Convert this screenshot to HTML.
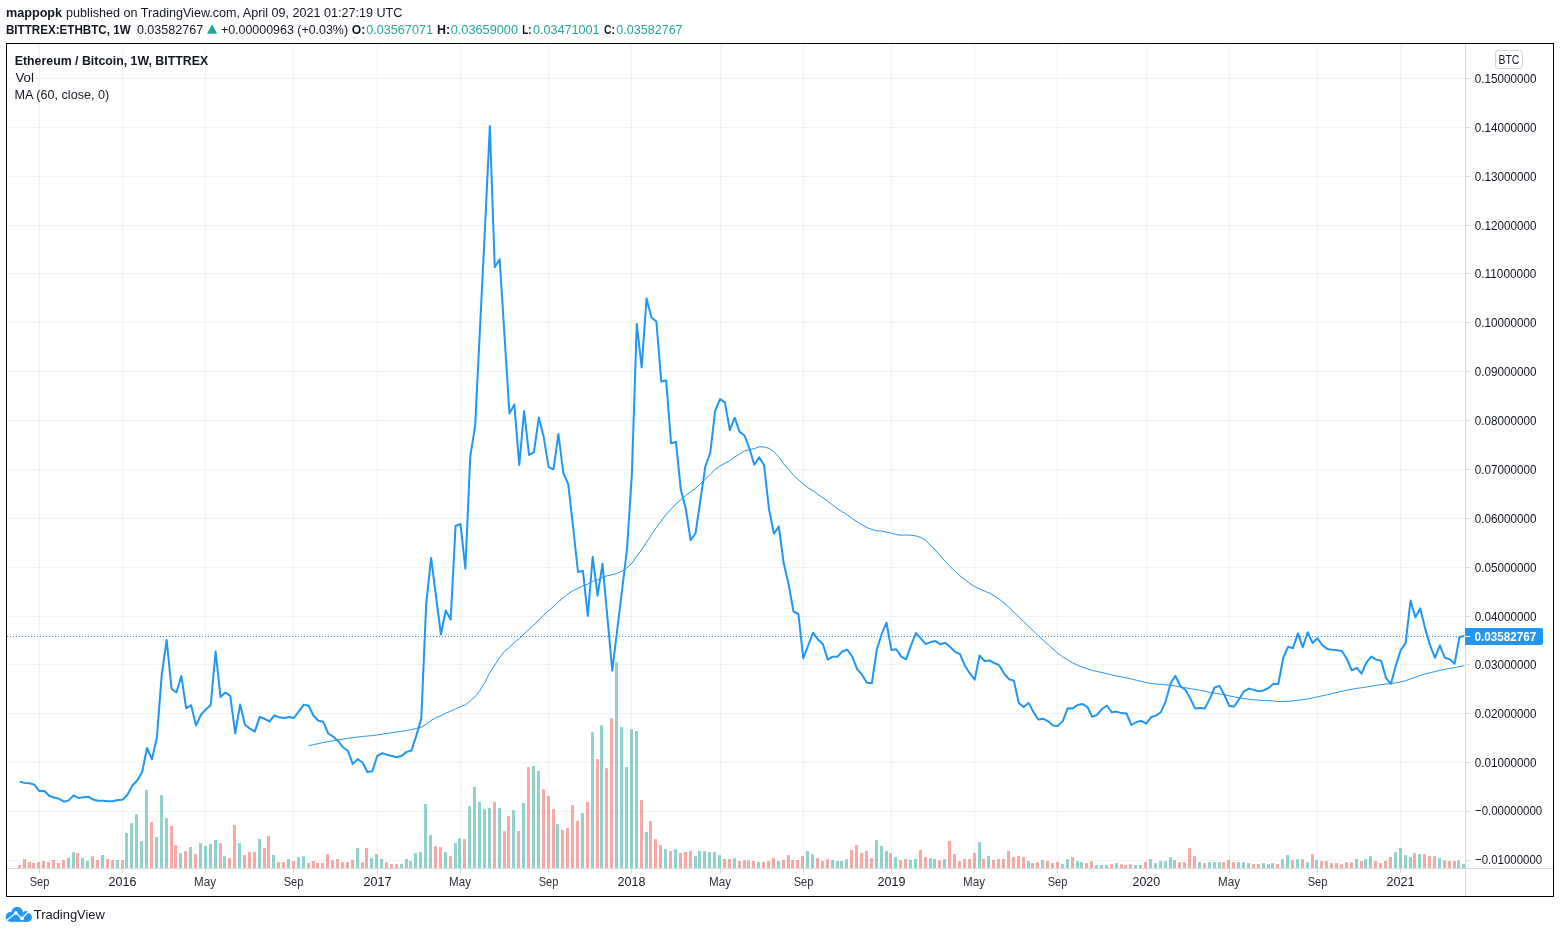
<!DOCTYPE html><html><head><meta charset="utf-8"><title>ETHBTC chart</title><style>
html,body{margin:0;padding:0;background:#fff;width:1560px;height:933px;overflow:hidden}
svg{display:block;will-change:transform}
text{font-family:"Liberation Sans",sans-serif}
</style></head><body>
<svg width="1560" height="933" viewBox="0 0 1560 933" shape-rendering="auto">
<rect x="0" y="0" width="1560" height="933" fill="#ffffff"/>
<rect x="7" y="78" width="1458" height="1" fill="rgba(42,46,57,0.06)"/>
<rect x="1466" y="78" width="4" height="1" fill="#d6d8dc"/>
<rect x="7" y="127" width="1458" height="1" fill="rgba(42,46,57,0.06)"/>
<rect x="1466" y="127" width="4" height="1" fill="#d6d8dc"/>
<rect x="7" y="176" width="1458" height="1" fill="rgba(42,46,57,0.06)"/>
<rect x="1466" y="176" width="4" height="1" fill="#d6d8dc"/>
<rect x="7" y="225" width="1458" height="1" fill="rgba(42,46,57,0.06)"/>
<rect x="1466" y="225" width="4" height="1" fill="#d6d8dc"/>
<rect x="7" y="273" width="1458" height="1" fill="rgba(42,46,57,0.06)"/>
<rect x="1466" y="273" width="4" height="1" fill="#d6d8dc"/>
<rect x="7" y="322" width="1458" height="1" fill="rgba(42,46,57,0.06)"/>
<rect x="1466" y="322" width="4" height="1" fill="#d6d8dc"/>
<rect x="7" y="371" width="1458" height="1" fill="rgba(42,46,57,0.06)"/>
<rect x="1466" y="371" width="4" height="1" fill="#d6d8dc"/>
<rect x="7" y="420" width="1458" height="1" fill="rgba(42,46,57,0.06)"/>
<rect x="1466" y="420" width="4" height="1" fill="#d6d8dc"/>
<rect x="7" y="469" width="1458" height="1" fill="rgba(42,46,57,0.06)"/>
<rect x="1466" y="469" width="4" height="1" fill="#d6d8dc"/>
<rect x="7" y="518" width="1458" height="1" fill="rgba(42,46,57,0.06)"/>
<rect x="1466" y="518" width="4" height="1" fill="#d6d8dc"/>
<rect x="7" y="567" width="1458" height="1" fill="rgba(42,46,57,0.06)"/>
<rect x="1466" y="567" width="4" height="1" fill="#d6d8dc"/>
<rect x="7" y="616" width="1458" height="1" fill="rgba(42,46,57,0.06)"/>
<rect x="1466" y="616" width="4" height="1" fill="#d6d8dc"/>
<rect x="7" y="664" width="1458" height="1" fill="rgba(42,46,57,0.06)"/>
<rect x="1466" y="664" width="4" height="1" fill="#d6d8dc"/>
<rect x="7" y="713" width="1458" height="1" fill="rgba(42,46,57,0.06)"/>
<rect x="1466" y="713" width="4" height="1" fill="#d6d8dc"/>
<rect x="7" y="762" width="1458" height="1" fill="rgba(42,46,57,0.06)"/>
<rect x="1466" y="762" width="4" height="1" fill="#d6d8dc"/>
<rect x="7" y="811" width="1458" height="1" fill="rgba(42,46,57,0.06)"/>
<rect x="1466" y="811" width="4" height="1" fill="#d6d8dc"/>
<rect x="7" y="860" width="1458" height="1" fill="rgba(42,46,57,0.06)"/>
<rect x="1466" y="860" width="4" height="1" fill="#d6d8dc"/>
<rect x="39" y="44" width="1" height="824" fill="rgba(42,46,57,0.06)"/>
<rect x="39" y="869" width="1" height="4" fill="#d6d8dc"/>
<rect x="122" y="44" width="1" height="824" fill="rgba(42,46,57,0.06)"/>
<rect x="122" y="869" width="1" height="4" fill="#d6d8dc"/>
<rect x="205" y="44" width="1" height="824" fill="rgba(42,46,57,0.06)"/>
<rect x="205" y="869" width="1" height="4" fill="#d6d8dc"/>
<rect x="293" y="44" width="1" height="824" fill="rgba(42,46,57,0.06)"/>
<rect x="293" y="869" width="1" height="4" fill="#d6d8dc"/>
<rect x="377" y="44" width="1" height="824" fill="rgba(42,46,57,0.06)"/>
<rect x="377" y="869" width="1" height="4" fill="#d6d8dc"/>
<rect x="460" y="44" width="1" height="824" fill="rgba(42,46,57,0.06)"/>
<rect x="460" y="869" width="1" height="4" fill="#d6d8dc"/>
<rect x="548" y="44" width="1" height="824" fill="rgba(42,46,57,0.06)"/>
<rect x="548" y="869" width="1" height="4" fill="#d6d8dc"/>
<rect x="631" y="44" width="1" height="824" fill="rgba(42,46,57,0.06)"/>
<rect x="631" y="869" width="1" height="4" fill="#d6d8dc"/>
<rect x="720" y="44" width="1" height="824" fill="rgba(42,46,57,0.06)"/>
<rect x="720" y="869" width="1" height="4" fill="#d6d8dc"/>
<rect x="803" y="44" width="1" height="824" fill="rgba(42,46,57,0.06)"/>
<rect x="803" y="869" width="1" height="4" fill="#d6d8dc"/>
<rect x="891" y="44" width="1" height="824" fill="rgba(42,46,57,0.06)"/>
<rect x="891" y="869" width="1" height="4" fill="#d6d8dc"/>
<rect x="974" y="44" width="1" height="824" fill="rgba(42,46,57,0.06)"/>
<rect x="974" y="869" width="1" height="4" fill="#d6d8dc"/>
<rect x="1057" y="44" width="1" height="824" fill="rgba(42,46,57,0.06)"/>
<rect x="1057" y="869" width="1" height="4" fill="#d6d8dc"/>
<rect x="1146" y="44" width="1" height="824" fill="rgba(42,46,57,0.06)"/>
<rect x="1146" y="869" width="1" height="4" fill="#d6d8dc"/>
<rect x="1229" y="44" width="1" height="824" fill="rgba(42,46,57,0.06)"/>
<rect x="1229" y="869" width="1" height="4" fill="#d6d8dc"/>
<rect x="1317" y="44" width="1" height="824" fill="rgba(42,46,57,0.06)"/>
<rect x="1317" y="869" width="1" height="4" fill="#d6d8dc"/>
<rect x="1400" y="44" width="1" height="824" fill="rgba(42,46,57,0.06)"/>
<rect x="1400" y="869" width="1" height="4" fill="#d6d8dc"/>
<rect x="18" y="865.0" width="3" height="3.0" fill="rgba(239,83,80,0.5)"/>
<rect x="23" y="859.1" width="3" height="8.9" fill="rgba(239,83,80,0.5)"/>
<rect x="28" y="862.0" width="3" height="6.0" fill="rgba(239,83,80,0.5)"/>
<rect x="32" y="862.9" width="3" height="5.1" fill="rgba(239,83,80,0.5)"/>
<rect x="37" y="862.0" width="3" height="6.0" fill="rgba(239,83,80,0.5)"/>
<rect x="42" y="861.0" width="3" height="7.0" fill="rgba(239,83,80,0.5)"/>
<rect x="47" y="862.0" width="3" height="6.0" fill="rgba(239,83,80,0.5)"/>
<rect x="52" y="860.0" width="3" height="8.0" fill="rgba(239,83,80,0.5)"/>
<rect x="57" y="862.9" width="3" height="5.1" fill="rgba(239,83,80,0.5)"/>
<rect x="62" y="860.0" width="3" height="8.0" fill="rgba(239,83,80,0.5)"/>
<rect x="67" y="857.9" width="3" height="10.1" fill="rgba(38,166,154,0.5)"/>
<rect x="72" y="852.1" width="3" height="15.9" fill="rgba(38,166,154,0.5)"/>
<rect x="76" y="853.1" width="3" height="14.9" fill="rgba(239,83,80,0.5)"/>
<rect x="81" y="857.9" width="3" height="10.1" fill="rgba(38,166,154,0.5)"/>
<rect x="86" y="861.0" width="3" height="7.0" fill="rgba(38,166,154,0.5)"/>
<rect x="91" y="856.2" width="3" height="11.8" fill="rgba(239,83,80,0.5)"/>
<rect x="96" y="860.0" width="3" height="8.0" fill="rgba(239,83,80,0.5)"/>
<rect x="101" y="855.0" width="3" height="13.0" fill="rgba(38,166,154,0.5)"/>
<rect x="106" y="859.1" width="3" height="8.9" fill="rgba(239,83,80,0.5)"/>
<rect x="111" y="860.0" width="3" height="8.0" fill="rgba(239,83,80,0.5)"/>
<rect x="116" y="860.0" width="3" height="8.0" fill="rgba(38,166,154,0.5)"/>
<rect x="121" y="860.0" width="3" height="8.0" fill="rgba(239,83,80,0.5)"/>
<rect x="125" y="833.0" width="3" height="35.0" fill="rgba(38,166,154,0.5)"/>
<rect x="130" y="823.2" width="3" height="44.8" fill="rgba(38,166,154,0.5)"/>
<rect x="135" y="814.0" width="3" height="54.0" fill="rgba(38,166,154,0.5)"/>
<rect x="140" y="841.0" width="3" height="27.0" fill="rgba(38,166,154,0.5)"/>
<rect x="145" y="789.9" width="3" height="78.1" fill="rgba(38,166,154,0.5)"/>
<rect x="150" y="822.0" width="3" height="46.0" fill="rgba(239,83,80,0.5)"/>
<rect x="155" y="837.1" width="3" height="30.9" fill="rgba(38,166,154,0.5)"/>
<rect x="160" y="795.0" width="3" height="73.0" fill="rgba(38,166,154,0.5)"/>
<rect x="165" y="818.1" width="3" height="49.9" fill="rgba(38,166,154,0.5)"/>
<rect x="170" y="826.1" width="3" height="41.9" fill="rgba(239,83,80,0.5)"/>
<rect x="174" y="845.1" width="3" height="22.9" fill="rgba(239,83,80,0.5)"/>
<rect x="179" y="853.1" width="3" height="14.9" fill="rgba(38,166,154,0.5)"/>
<rect x="184" y="851.1" width="3" height="16.9" fill="rgba(239,83,80,0.5)"/>
<rect x="189" y="847.0" width="3" height="21.0" fill="rgba(38,166,154,0.5)"/>
<rect x="194" y="854.1" width="3" height="13.9" fill="rgba(239,83,80,0.5)"/>
<rect x="199" y="843.2" width="3" height="24.8" fill="rgba(38,166,154,0.5)"/>
<rect x="204" y="846.1" width="3" height="21.9" fill="rgba(38,166,154,0.5)"/>
<rect x="209" y="843.9" width="3" height="24.1" fill="rgba(38,166,154,0.5)"/>
<rect x="214" y="840.0" width="3" height="28.0" fill="rgba(38,166,154,0.5)"/>
<rect x="219" y="843.2" width="3" height="24.8" fill="rgba(239,83,80,0.5)"/>
<rect x="223" y="856.2" width="3" height="11.8" fill="rgba(38,166,154,0.5)"/>
<rect x="228" y="858.1" width="3" height="9.9" fill="rgba(239,83,80,0.5)"/>
<rect x="233" y="824.9" width="3" height="43.1" fill="rgba(239,83,80,0.5)"/>
<rect x="238" y="843.2" width="3" height="24.8" fill="rgba(38,166,154,0.5)"/>
<rect x="243" y="855.0" width="3" height="13.0" fill="rgba(239,83,80,0.5)"/>
<rect x="248" y="852.1" width="3" height="15.9" fill="rgba(239,83,80,0.5)"/>
<rect x="253" y="852.1" width="3" height="15.9" fill="rgba(239,83,80,0.5)"/>
<rect x="258" y="839.0" width="3" height="29.0" fill="rgba(38,166,154,0.5)"/>
<rect x="263" y="848.0" width="3" height="20.0" fill="rgba(239,83,80,0.5)"/>
<rect x="267" y="835.9" width="3" height="32.1" fill="rgba(239,83,80,0.5)"/>
<rect x="272" y="855.0" width="3" height="13.0" fill="rgba(38,166,154,0.5)"/>
<rect x="277" y="862.0" width="3" height="6.0" fill="rgba(239,83,80,0.5)"/>
<rect x="282" y="862.0" width="3" height="6.0" fill="rgba(239,83,80,0.5)"/>
<rect x="287" y="859.1" width="3" height="8.9" fill="rgba(38,166,154,0.5)"/>
<rect x="292" y="861.0" width="3" height="7.0" fill="rgba(239,83,80,0.5)"/>
<rect x="297" y="857.1" width="3" height="10.9" fill="rgba(38,166,154,0.5)"/>
<rect x="302" y="856.2" width="3" height="11.8" fill="rgba(38,166,154,0.5)"/>
<rect x="307" y="862.9" width="3" height="5.1" fill="rgba(239,83,80,0.5)"/>
<rect x="312" y="861.0" width="3" height="7.0" fill="rgba(239,83,80,0.5)"/>
<rect x="316" y="862.9" width="3" height="5.1" fill="rgba(239,83,80,0.5)"/>
<rect x="321" y="862.9" width="3" height="5.1" fill="rgba(239,83,80,0.5)"/>
<rect x="326" y="854.1" width="3" height="13.9" fill="rgba(239,83,80,0.5)"/>
<rect x="331" y="860.0" width="3" height="8.0" fill="rgba(239,83,80,0.5)"/>
<rect x="336" y="859.1" width="3" height="8.9" fill="rgba(239,83,80,0.5)"/>
<rect x="341" y="862.0" width="3" height="6.0" fill="rgba(239,83,80,0.5)"/>
<rect x="346" y="862.0" width="3" height="6.0" fill="rgba(239,83,80,0.5)"/>
<rect x="351" y="860.0" width="3" height="8.0" fill="rgba(239,83,80,0.5)"/>
<rect x="356" y="848.0" width="3" height="20.0" fill="rgba(38,166,154,0.5)"/>
<rect x="361" y="862.0" width="3" height="6.0" fill="rgba(239,83,80,0.5)"/>
<rect x="365" y="848.0" width="3" height="20.0" fill="rgba(239,83,80,0.5)"/>
<rect x="370" y="858.1" width="3" height="9.9" fill="rgba(38,166,154,0.5)"/>
<rect x="375" y="854.1" width="3" height="13.9" fill="rgba(38,166,154,0.5)"/>
<rect x="380" y="859.1" width="3" height="8.9" fill="rgba(38,166,154,0.5)"/>
<rect x="385" y="862.0" width="3" height="6.0" fill="rgba(239,83,80,0.5)"/>
<rect x="390" y="864.1" width="3" height="3.9" fill="rgba(239,83,80,0.5)"/>
<rect x="395" y="864.1" width="3" height="3.9" fill="rgba(239,83,80,0.5)"/>
<rect x="400" y="864.1" width="3" height="3.9" fill="rgba(38,166,154,0.5)"/>
<rect x="405" y="859.0" width="3" height="9.0" fill="rgba(38,166,154,0.5)"/>
<rect x="409" y="860.9" width="3" height="7.1" fill="rgba(38,166,154,0.5)"/>
<rect x="414" y="853.1" width="3" height="14.9" fill="rgba(38,166,154,0.5)"/>
<rect x="419" y="852.0" width="3" height="16.0" fill="rgba(38,166,154,0.5)"/>
<rect x="424" y="804.1" width="3" height="63.9" fill="rgba(38,166,154,0.5)"/>
<rect x="429" y="835.1" width="3" height="32.9" fill="rgba(38,166,154,0.5)"/>
<rect x="434" y="846.1" width="3" height="21.9" fill="rgba(239,83,80,0.5)"/>
<rect x="439" y="847.0" width="3" height="21.0" fill="rgba(239,83,80,0.5)"/>
<rect x="444" y="852.0" width="3" height="16.0" fill="rgba(38,166,154,0.5)"/>
<rect x="449" y="856.1" width="3" height="11.9" fill="rgba(239,83,80,0.5)"/>
<rect x="454" y="843.1" width="3" height="24.9" fill="rgba(38,166,154,0.5)"/>
<rect x="458" y="838.1" width="3" height="29.9" fill="rgba(38,166,154,0.5)"/>
<rect x="463" y="839.1" width="3" height="28.9" fill="rgba(239,83,80,0.5)"/>
<rect x="468" y="806.1" width="3" height="61.9" fill="rgba(38,166,154,0.5)"/>
<rect x="473" y="786.9" width="3" height="81.1" fill="rgba(38,166,154,0.5)"/>
<rect x="478" y="801.9" width="3" height="66.1" fill="rgba(38,166,154,0.5)"/>
<rect x="483" y="809.1" width="3" height="58.9" fill="rgba(38,166,154,0.5)"/>
<rect x="488" y="808.0" width="3" height="60.0" fill="rgba(38,166,154,0.5)"/>
<rect x="493" y="801.9" width="3" height="66.1" fill="rgba(239,83,80,0.5)"/>
<rect x="498" y="808.0" width="3" height="60.0" fill="rgba(38,166,154,0.5)"/>
<rect x="503" y="831.1" width="3" height="36.9" fill="rgba(239,83,80,0.5)"/>
<rect x="507" y="816.1" width="3" height="51.9" fill="rgba(239,83,80,0.5)"/>
<rect x="512" y="810.2" width="3" height="57.8" fill="rgba(38,166,154,0.5)"/>
<rect x="517" y="831.1" width="3" height="36.9" fill="rgba(239,83,80,0.5)"/>
<rect x="522" y="803.0" width="3" height="65.0" fill="rgba(38,166,154,0.5)"/>
<rect x="527" y="767.1" width="3" height="100.9" fill="rgba(239,83,80,0.5)"/>
<rect x="532" y="766.1" width="3" height="101.9" fill="rgba(38,166,154,0.5)"/>
<rect x="537" y="771.0" width="3" height="97.0" fill="rgba(38,166,154,0.5)"/>
<rect x="542" y="789.1" width="3" height="78.9" fill="rgba(239,83,80,0.5)"/>
<rect x="547" y="796.2" width="3" height="71.8" fill="rgba(239,83,80,0.5)"/>
<rect x="552" y="809.1" width="3" height="58.9" fill="rgba(239,83,80,0.5)"/>
<rect x="556" y="824.2" width="3" height="43.8" fill="rgba(38,166,154,0.5)"/>
<rect x="561" y="830.1" width="3" height="37.9" fill="rgba(239,83,80,0.5)"/>
<rect x="566" y="828.1" width="3" height="39.9" fill="rgba(239,83,80,0.5)"/>
<rect x="571" y="805.1" width="3" height="62.9" fill="rgba(239,83,80,0.5)"/>
<rect x="576" y="821.0" width="3" height="47.0" fill="rgba(239,83,80,0.5)"/>
<rect x="581" y="813.0" width="3" height="55.0" fill="rgba(38,166,154,0.5)"/>
<rect x="586" y="802.1" width="3" height="65.9" fill="rgba(239,83,80,0.5)"/>
<rect x="591" y="732.2" width="3" height="135.8" fill="rgba(38,166,154,0.5)"/>
<rect x="596" y="759.1" width="3" height="108.9" fill="rgba(239,83,80,0.5)"/>
<rect x="600" y="725.3" width="3" height="142.7" fill="rgba(38,166,154,0.5)"/>
<rect x="605" y="768.2" width="3" height="99.8" fill="rgba(239,83,80,0.5)"/>
<rect x="610" y="718.3" width="3" height="149.7" fill="rgba(239,83,80,0.5)"/>
<rect x="615" y="662.3" width="3" height="205.7" fill="rgba(38,166,154,0.5)"/>
<rect x="620" y="727.1" width="3" height="140.9" fill="rgba(38,166,154,0.5)"/>
<rect x="625" y="767.1" width="3" height="100.9" fill="rgba(38,166,154,0.5)"/>
<rect x="630" y="729.2" width="3" height="138.8" fill="rgba(38,166,154,0.5)"/>
<rect x="635" y="731.1" width="3" height="136.9" fill="rgba(38,166,154,0.5)"/>
<rect x="640" y="800.1" width="3" height="67.9" fill="rgba(239,83,80,0.5)"/>
<rect x="645" y="832.0" width="3" height="36.0" fill="rgba(38,166,154,0.5)"/>
<rect x="649" y="821.1" width="3" height="46.9" fill="rgba(239,83,80,0.5)"/>
<rect x="654" y="839.1" width="3" height="28.9" fill="rgba(239,83,80,0.5)"/>
<rect x="659" y="845.1" width="3" height="22.9" fill="rgba(239,83,80,0.5)"/>
<rect x="664" y="849.2" width="3" height="18.8" fill="rgba(38,166,154,0.5)"/>
<rect x="669" y="851.1" width="3" height="16.9" fill="rgba(239,83,80,0.5)"/>
<rect x="674" y="849.2" width="3" height="18.8" fill="rgba(38,166,154,0.5)"/>
<rect x="679" y="853.0" width="3" height="15.0" fill="rgba(239,83,80,0.5)"/>
<rect x="684" y="852.0" width="3" height="16.0" fill="rgba(239,83,80,0.5)"/>
<rect x="689" y="851.1" width="3" height="16.9" fill="rgba(239,83,80,0.5)"/>
<rect x="694" y="856.0" width="3" height="12.0" fill="rgba(38,166,154,0.5)"/>
<rect x="698" y="851.1" width="3" height="16.9" fill="rgba(38,166,154,0.5)"/>
<rect x="703" y="851.1" width="3" height="16.9" fill="rgba(38,166,154,0.5)"/>
<rect x="708" y="852.0" width="3" height="16.0" fill="rgba(38,166,154,0.5)"/>
<rect x="713" y="852.0" width="3" height="16.0" fill="rgba(38,166,154,0.5)"/>
<rect x="718" y="855.2" width="3" height="12.8" fill="rgba(38,166,154,0.5)"/>
<rect x="723" y="859.0" width="3" height="9.0" fill="rgba(239,83,80,0.5)"/>
<rect x="728" y="859.0" width="3" height="9.0" fill="rgba(239,83,80,0.5)"/>
<rect x="733" y="858.2" width="3" height="9.8" fill="rgba(38,166,154,0.5)"/>
<rect x="738" y="861.0" width="3" height="7.0" fill="rgba(239,83,80,0.5)"/>
<rect x="743" y="860.2" width="3" height="7.8" fill="rgba(239,83,80,0.5)"/>
<rect x="747" y="860.2" width="3" height="7.8" fill="rgba(239,83,80,0.5)"/>
<rect x="752" y="861.0" width="3" height="7.0" fill="rgba(239,83,80,0.5)"/>
<rect x="757" y="862.0" width="3" height="6.0" fill="rgba(38,166,154,0.5)"/>
<rect x="762" y="862.0" width="3" height="6.0" fill="rgba(239,83,80,0.5)"/>
<rect x="767" y="861.1" width="3" height="6.9" fill="rgba(239,83,80,0.5)"/>
<rect x="772" y="858.1" width="3" height="9.9" fill="rgba(239,83,80,0.5)"/>
<rect x="777" y="861.1" width="3" height="6.9" fill="rgba(38,166,154,0.5)"/>
<rect x="782" y="860.0" width="3" height="8.0" fill="rgba(239,83,80,0.5)"/>
<rect x="787" y="855.2" width="3" height="12.8" fill="rgba(239,83,80,0.5)"/>
<rect x="791" y="860.0" width="3" height="8.0" fill="rgba(239,83,80,0.5)"/>
<rect x="796" y="860.0" width="3" height="8.0" fill="rgba(239,83,80,0.5)"/>
<rect x="801" y="856.1" width="3" height="11.9" fill="rgba(239,83,80,0.5)"/>
<rect x="806" y="851.0" width="3" height="17.0" fill="rgba(38,166,154,0.5)"/>
<rect x="811" y="854.2" width="3" height="13.8" fill="rgba(38,166,154,0.5)"/>
<rect x="816" y="858.1" width="3" height="9.9" fill="rgba(239,83,80,0.5)"/>
<rect x="821" y="861.1" width="3" height="6.9" fill="rgba(239,83,80,0.5)"/>
<rect x="826" y="859.2" width="3" height="8.8" fill="rgba(239,83,80,0.5)"/>
<rect x="831" y="860.0" width="3" height="8.0" fill="rgba(38,166,154,0.5)"/>
<rect x="836" y="861.1" width="3" height="6.9" fill="rgba(38,166,154,0.5)"/>
<rect x="840" y="861.1" width="3" height="6.9" fill="rgba(38,166,154,0.5)"/>
<rect x="845" y="859.2" width="3" height="8.8" fill="rgba(38,166,154,0.5)"/>
<rect x="850" y="850.0" width="3" height="18.0" fill="rgba(239,83,80,0.5)"/>
<rect x="855" y="845.0" width="3" height="23.0" fill="rgba(239,83,80,0.5)"/>
<rect x="860" y="853.1" width="3" height="14.9" fill="rgba(239,83,80,0.5)"/>
<rect x="865" y="851.0" width="3" height="17.0" fill="rgba(239,83,80,0.5)"/>
<rect x="870" y="858.1" width="3" height="9.9" fill="rgba(239,83,80,0.5)"/>
<rect x="875" y="840.2" width="3" height="27.8" fill="rgba(38,166,154,0.5)"/>
<rect x="880" y="846.0" width="3" height="22.0" fill="rgba(38,166,154,0.5)"/>
<rect x="885" y="851.0" width="3" height="17.0" fill="rgba(38,166,154,0.5)"/>
<rect x="889" y="853.1" width="3" height="14.9" fill="rgba(239,83,80,0.5)"/>
<rect x="894" y="857.1" width="3" height="10.9" fill="rgba(38,166,154,0.5)"/>
<rect x="899" y="860.0" width="3" height="8.0" fill="rgba(239,83,80,0.5)"/>
<rect x="904" y="859.0" width="3" height="9.0" fill="rgba(239,83,80,0.5)"/>
<rect x="909" y="860.0" width="3" height="8.0" fill="rgba(38,166,154,0.5)"/>
<rect x="914" y="859.0" width="3" height="9.0" fill="rgba(38,166,154,0.5)"/>
<rect x="919" y="850.0" width="3" height="18.0" fill="rgba(239,83,80,0.5)"/>
<rect x="924" y="857.1" width="3" height="10.9" fill="rgba(239,83,80,0.5)"/>
<rect x="929" y="858.1" width="3" height="9.9" fill="rgba(38,166,154,0.5)"/>
<rect x="933" y="859.0" width="3" height="9.0" fill="rgba(38,166,154,0.5)"/>
<rect x="938" y="860.0" width="3" height="8.0" fill="rgba(239,83,80,0.5)"/>
<rect x="943" y="859.0" width="3" height="9.0" fill="rgba(38,166,154,0.5)"/>
<rect x="948" y="841.0" width="3" height="27.0" fill="rgba(239,83,80,0.5)"/>
<rect x="953" y="854.0" width="3" height="14.0" fill="rgba(239,83,80,0.5)"/>
<rect x="958" y="861.1" width="3" height="6.9" fill="rgba(239,83,80,0.5)"/>
<rect x="963" y="859.0" width="3" height="9.0" fill="rgba(239,83,80,0.5)"/>
<rect x="968" y="859.0" width="3" height="9.0" fill="rgba(239,83,80,0.5)"/>
<rect x="973" y="853.1" width="3" height="14.9" fill="rgba(239,83,80,0.5)"/>
<rect x="978" y="842.1" width="3" height="25.9" fill="rgba(38,166,154,0.5)"/>
<rect x="982" y="859.0" width="3" height="9.0" fill="rgba(239,83,80,0.5)"/>
<rect x="987" y="856.0" width="3" height="12.0" fill="rgba(38,166,154,0.5)"/>
<rect x="992" y="860.0" width="3" height="8.0" fill="rgba(239,83,80,0.5)"/>
<rect x="997" y="859.0" width="3" height="9.0" fill="rgba(239,83,80,0.5)"/>
<rect x="1002" y="859.0" width="3" height="9.0" fill="rgba(239,83,80,0.5)"/>
<rect x="1007" y="851.0" width="3" height="17.0" fill="rgba(239,83,80,0.5)"/>
<rect x="1012" y="857.1" width="3" height="10.9" fill="rgba(239,83,80,0.5)"/>
<rect x="1017" y="856.1" width="3" height="11.9" fill="rgba(239,83,80,0.5)"/>
<rect x="1022" y="857.1" width="3" height="10.9" fill="rgba(239,83,80,0.5)"/>
<rect x="1027" y="861.1" width="3" height="6.9" fill="rgba(38,166,154,0.5)"/>
<rect x="1031" y="863.1" width="3" height="4.9" fill="rgba(239,83,80,0.5)"/>
<rect x="1036" y="862.1" width="3" height="5.9" fill="rgba(239,83,80,0.5)"/>
<rect x="1041" y="860.0" width="3" height="8.0" fill="rgba(38,166,154,0.5)"/>
<rect x="1046" y="861.1" width="3" height="6.9" fill="rgba(239,83,80,0.5)"/>
<rect x="1051" y="863.1" width="3" height="4.9" fill="rgba(239,83,80,0.5)"/>
<rect x="1056" y="862.1" width="3" height="5.9" fill="rgba(239,83,80,0.5)"/>
<rect x="1061" y="864.2" width="3" height="3.8" fill="rgba(38,166,154,0.5)"/>
<rect x="1066" y="859.2" width="3" height="8.8" fill="rgba(38,166,154,0.5)"/>
<rect x="1071" y="857.1" width="3" height="10.9" fill="rgba(239,83,80,0.5)"/>
<rect x="1076" y="861.1" width="3" height="6.9" fill="rgba(38,166,154,0.5)"/>
<rect x="1080" y="862.1" width="3" height="5.9" fill="rgba(38,166,154,0.5)"/>
<rect x="1085" y="863.1" width="3" height="4.9" fill="rgba(239,83,80,0.5)"/>
<rect x="1090" y="861.1" width="3" height="6.9" fill="rgba(239,83,80,0.5)"/>
<rect x="1095" y="865.0" width="3" height="3.0" fill="rgba(38,166,154,0.5)"/>
<rect x="1100" y="865.0" width="3" height="3.0" fill="rgba(38,166,154,0.5)"/>
<rect x="1105" y="865.0" width="3" height="3.0" fill="rgba(38,166,154,0.5)"/>
<rect x="1110" y="864.2" width="3" height="3.8" fill="rgba(239,83,80,0.5)"/>
<rect x="1115" y="863.1" width="3" height="4.9" fill="rgba(38,166,154,0.5)"/>
<rect x="1120" y="864.2" width="3" height="3.8" fill="rgba(239,83,80,0.5)"/>
<rect x="1124" y="865.0" width="3" height="3.0" fill="rgba(239,83,80,0.5)"/>
<rect x="1129" y="864.2" width="3" height="3.8" fill="rgba(239,83,80,0.5)"/>
<rect x="1134" y="865.0" width="3" height="3.0" fill="rgba(38,166,154,0.5)"/>
<rect x="1139" y="865.0" width="3" height="3.0" fill="rgba(38,166,154,0.5)"/>
<rect x="1144" y="862.1" width="3" height="5.9" fill="rgba(239,83,80,0.5)"/>
<rect x="1149" y="859.2" width="3" height="8.8" fill="rgba(38,166,154,0.5)"/>
<rect x="1154" y="863.1" width="3" height="4.9" fill="rgba(38,166,154,0.5)"/>
<rect x="1159" y="861.1" width="3" height="6.9" fill="rgba(38,166,154,0.5)"/>
<rect x="1164" y="861.1" width="3" height="6.9" fill="rgba(38,166,154,0.5)"/>
<rect x="1169" y="857.1" width="3" height="10.9" fill="rgba(38,166,154,0.5)"/>
<rect x="1173" y="860.0" width="3" height="8.0" fill="rgba(38,166,154,0.5)"/>
<rect x="1178" y="862.1" width="3" height="5.9" fill="rgba(239,83,80,0.5)"/>
<rect x="1183" y="862.1" width="3" height="5.9" fill="rgba(239,83,80,0.5)"/>
<rect x="1188" y="848.1" width="3" height="19.9" fill="rgba(239,83,80,0.5)"/>
<rect x="1193" y="856.1" width="3" height="11.9" fill="rgba(239,83,80,0.5)"/>
<rect x="1198" y="862.1" width="3" height="5.9" fill="rgba(38,166,154,0.5)"/>
<rect x="1203" y="863.1" width="3" height="4.9" fill="rgba(239,83,80,0.5)"/>
<rect x="1208" y="862.1" width="3" height="5.9" fill="rgba(38,166,154,0.5)"/>
<rect x="1213" y="862.1" width="3" height="5.9" fill="rgba(38,166,154,0.5)"/>
<rect x="1218" y="862.1" width="3" height="5.9" fill="rgba(38,166,154,0.5)"/>
<rect x="1222" y="862.1" width="3" height="5.9" fill="rgba(239,83,80,0.5)"/>
<rect x="1227" y="860.0" width="3" height="8.0" fill="rgba(239,83,80,0.5)"/>
<rect x="1232" y="862.1" width="3" height="5.9" fill="rgba(239,83,80,0.5)"/>
<rect x="1237" y="862.1" width="3" height="5.9" fill="rgba(38,166,154,0.5)"/>
<rect x="1242" y="862.1" width="3" height="5.9" fill="rgba(38,166,154,0.5)"/>
<rect x="1247" y="863.1" width="3" height="4.9" fill="rgba(38,166,154,0.5)"/>
<rect x="1252" y="864.2" width="3" height="3.8" fill="rgba(239,83,80,0.5)"/>
<rect x="1257" y="864.2" width="3" height="3.8" fill="rgba(239,83,80,0.5)"/>
<rect x="1262" y="863.1" width="3" height="4.9" fill="rgba(38,166,154,0.5)"/>
<rect x="1267" y="864.2" width="3" height="3.8" fill="rgba(38,166,154,0.5)"/>
<rect x="1271" y="863.1" width="3" height="4.9" fill="rgba(38,166,154,0.5)"/>
<rect x="1276" y="864.2" width="3" height="3.8" fill="rgba(239,83,80,0.5)"/>
<rect x="1281" y="859.2" width="3" height="8.8" fill="rgba(38,166,154,0.5)"/>
<rect x="1286" y="855.0" width="3" height="13.0" fill="rgba(38,166,154,0.5)"/>
<rect x="1291" y="860.0" width="3" height="8.0" fill="rgba(239,83,80,0.5)"/>
<rect x="1296" y="859.2" width="3" height="8.8" fill="rgba(38,166,154,0.5)"/>
<rect x="1301" y="859.2" width="3" height="8.8" fill="rgba(239,83,80,0.5)"/>
<rect x="1306" y="862.1" width="3" height="5.9" fill="rgba(38,166,154,0.5)"/>
<rect x="1311" y="854.2" width="3" height="13.8" fill="rgba(239,83,80,0.5)"/>
<rect x="1315" y="860.0" width="3" height="8.0" fill="rgba(38,166,154,0.5)"/>
<rect x="1320" y="861.1" width="3" height="6.9" fill="rgba(239,83,80,0.5)"/>
<rect x="1325" y="861.1" width="3" height="6.9" fill="rgba(239,83,80,0.5)"/>
<rect x="1330" y="863.1" width="3" height="4.9" fill="rgba(239,83,80,0.5)"/>
<rect x="1335" y="863.1" width="3" height="4.9" fill="rgba(239,83,80,0.5)"/>
<rect x="1340" y="864.2" width="3" height="3.8" fill="rgba(239,83,80,0.5)"/>
<rect x="1345" y="862.1" width="3" height="5.9" fill="rgba(239,83,80,0.5)"/>
<rect x="1350" y="862.1" width="3" height="5.9" fill="rgba(239,83,80,0.5)"/>
<rect x="1355" y="859.2" width="3" height="8.8" fill="rgba(38,166,154,0.5)"/>
<rect x="1360" y="861.1" width="3" height="6.9" fill="rgba(239,83,80,0.5)"/>
<rect x="1364" y="859.2" width="3" height="8.8" fill="rgba(38,166,154,0.5)"/>
<rect x="1369" y="856.1" width="3" height="11.9" fill="rgba(38,166,154,0.5)"/>
<rect x="1374" y="861.1" width="3" height="6.9" fill="rgba(239,83,80,0.5)"/>
<rect x="1379" y="863.1" width="3" height="4.9" fill="rgba(239,83,80,0.5)"/>
<rect x="1384" y="861.0" width="3" height="7.0" fill="rgba(239,83,80,0.5)"/>
<rect x="1389" y="857.1" width="3" height="10.9" fill="rgba(239,83,80,0.5)"/>
<rect x="1394" y="852.1" width="3" height="15.9" fill="rgba(38,166,154,0.5)"/>
<rect x="1399" y="848.1" width="3" height="19.9" fill="rgba(38,166,154,0.5)"/>
<rect x="1404" y="855.2" width="3" height="12.8" fill="rgba(38,166,154,0.5)"/>
<rect x="1409" y="857.1" width="3" height="10.9" fill="rgba(38,166,154,0.5)"/>
<rect x="1413" y="853.1" width="3" height="14.9" fill="rgba(239,83,80,0.5)"/>
<rect x="1418" y="854.1" width="3" height="13.9" fill="rgba(38,166,154,0.5)"/>
<rect x="1423" y="854.1" width="3" height="13.9" fill="rgba(239,83,80,0.5)"/>
<rect x="1428" y="856.1" width="3" height="11.9" fill="rgba(239,83,80,0.5)"/>
<rect x="1433" y="856.1" width="3" height="11.9" fill="rgba(239,83,80,0.5)"/>
<rect x="1438" y="858.1" width="3" height="9.9" fill="rgba(38,166,154,0.5)"/>
<rect x="1443" y="860.2" width="3" height="7.8" fill="rgba(239,83,80,0.5)"/>
<rect x="1448" y="861.0" width="3" height="7.0" fill="rgba(239,83,80,0.5)"/>
<rect x="1453" y="861.0" width="3" height="7.0" fill="rgba(239,83,80,0.5)"/>
<rect x="1457" y="860.2" width="3" height="7.8" fill="rgba(38,166,154,0.5)"/>
<rect x="1462" y="864.2" width="3" height="3.8" fill="rgba(38,166,154,0.5)"/>
<polyline points="308.65,745.69 313.55,744.59 318.45,743.56 323.35,742.53 328.24,741.68 333.14,740.77 338.04,739.94 342.94,739.13 347.83,738.35 352.73,737.77 357.63,737.06 362.52,736.43 367.42,736.04 372.32,735.60 377.22,734.91 382.11,734.18 387.01,733.44 391.91,732.69 396.80,731.97 401.70,731.21 406.60,730.39 411.50,729.57 416.39,728.49 421.29,727.23 426.19,724.20 431.08,720.49 435.98,717.56 440.88,715.67 445.78,713.18 450.67,711.21 455.57,708.74 460.47,706.80 465.37,704.80 470.26,700.87 475.16,696.69 480.06,690.34 484.95,682.40 489.85,672.41 494.75,664.95 499.65,657.45 504.54,651.30 509.44,647.33 514.34,642.46 519.23,638.67 524.13,633.92 529.03,629.27 533.93,625.07 538.82,619.94 543.72,615.08 548.62,610.67 553.51,606.55 558.41,601.80 563.31,597.66 568.21,593.80 573.10,590.62 578.00,588.19 582.90,585.76 587.80,584.06 592.69,581.48 597.59,579.67 602.49,577.30 607.38,575.65 612.28,574.82 617.18,573.28 622.08,570.89 626.97,567.77 631.87,563.33 636.77,556.27 641.66,549.88 646.56,542.13 651.46,534.76 656.36,527.42 661.25,520.91 666.15,514.39 671.05,509.18 675.94,503.99 680.84,499.57 685.74,495.45 690.64,491.83 695.53,488.12 700.43,483.93 705.33,479.19 710.23,474.48 715.12,469.36 720.02,465.94 724.92,463.35 729.81,460.58 734.71,456.97 739.61,454.00 744.51,450.93 749.40,449.63 754.30,448.65 759.20,446.79 764.09,446.94 768.99,448.33 773.89,451.77 778.79,456.73 783.68,464.02 788.58,469.30 793.48,475.17 798.37,479.81 803.27,483.88 808.17,487.90 813.07,490.69 817.96,494.50 822.86,497.65 827.76,501.12 832.66,505.10 837.55,508.76 842.45,511.83 847.35,514.84 852.24,518.55 857.14,521.82 862.04,525.00 866.94,527.60 871.83,529.45 876.73,530.77 881.63,531.08 886.52,532.18 891.42,533.08 896.32,534.50 901.22,535.17 906.11,534.98 911.01,535.23 915.91,535.95 920.80,537.43 925.70,540.26 930.60,545.57 935.50,550.13 940.39,555.89 945.29,561.31 950.19,566.74 955.09,571.24 959.98,575.81 964.88,579.51 969.78,583.37 974.67,586.53 979.57,588.98 984.47,590.99 989.37,593.11 994.26,595.83 999.16,599.14 1004.06,602.82 1008.95,607.28 1013.85,611.98 1018.75,616.99 1023.65,621.60 1028.54,626.36 1033.44,631.02 1038.34,635.76 1043.23,640.26 1048.13,644.54 1053.03,649.01 1057.93,653.36 1062.82,656.89 1067.72,659.80 1072.62,662.83 1077.52,665.19 1082.41,667.19 1087.31,668.78 1092.21,670.49 1097.10,671.43 1102.00,672.49 1106.90,673.71 1111.80,674.92 1116.69,676.05 1121.59,676.94 1126.49,677.88 1131.38,679.02 1136.28,680.20 1141.18,681.39 1146.08,682.50 1150.97,683.31 1155.87,683.99 1160.77,684.48 1165.66,684.78 1170.56,685.34 1175.46,686.03 1180.36,687.09 1185.25,687.75 1190.15,688.57 1195.05,689.43 1199.95,690.24 1204.84,691.29 1209.74,692.39 1214.64,693.21 1219.53,693.90 1224.43,694.78 1229.33,695.87 1234.23,696.90 1239.12,697.84 1244.02,698.58 1248.92,699.19 1253.81,699.79 1258.71,700.22 1263.61,700.50 1268.51,700.64 1273.40,701.12 1278.30,701.51 1283.20,701.47 1288.09,701.20 1292.99,700.91 1297.89,700.24 1302.79,699.71 1307.68,698.91 1312.58,697.91 1317.48,696.76 1322.38,695.80 1327.27,694.75 1332.17,693.58 1337.07,692.44 1341.96,691.27 1346.86,690.16 1351.76,689.24 1356.66,688.35 1361.55,687.77 1366.45,687.01 1371.35,686.20 1376.24,685.46 1381.14,684.70 1386.04,684.05 1390.94,683.53 1395.83,682.81 1400.73,681.89 1405.63,680.73 1410.52,678.88 1415.42,677.29 1420.32,675.54 1425.22,673.93 1430.11,672.66 1435.01,671.61 1439.91,670.30 1444.81,669.31 1449.70,668.37 1454.60,667.56 1459.50,666.48 1464.39,665.70" fill="none" stroke="#2196f3" stroke-width="1" stroke-linejoin="round"/>
<polyline points="19.72,781.70 24.62,782.90 29.51,783.30 34.41,784.60 39.31,791.20 44.21,790.80 49.10,795.80 54.00,797.50 58.90,798.70 63.79,801.70 68.69,800.40 73.59,795.40 78.49,797.90 83.38,797.30 88.28,796.70 93.18,799.60 98.08,800.70 102.97,800.70 107.87,801.20 112.77,801.20 117.66,800.00 122.56,799.70 127.46,794.70 132.36,785.50 137.25,780.50 142.15,772.00 147.05,748.00 151.94,759.30 156.84,737.80 161.74,674.60 166.64,640.00 171.53,688.70 176.43,692.50 181.33,676.00 186.22,708.30 191.12,705.20 196.02,725.60 200.92,714.70 205.81,709.50 210.71,705.00 215.61,651.40 220.51,697.00 225.40,692.50 230.30,696.00 235.20,733.40 240.09,704.60 244.99,724.80 249.89,728.60 254.79,731.60 259.68,716.90 264.58,718.80 269.48,721.50 274.37,715.50 279.27,717.30 284.17,718.00 289.07,716.90 293.96,718.00 298.86,711.30 303.76,704.60 308.65,705.80 313.55,715.80 318.45,720.80 323.35,721.80 328.24,733.50 333.14,736.60 338.04,741.00 342.94,747.20 347.83,750.70 352.73,763.90 357.63,759.20 362.52,762.50 367.42,772.00 372.32,771.30 377.22,756.00 382.11,753.30 387.01,754.80 391.91,756.00 396.80,757.20 401.70,755.80 406.60,751.90 411.50,750.50 416.39,735.40 421.29,718.60 426.19,604.00 431.08,557.90 435.98,596.00 440.88,634.50 445.78,610.50 450.67,619.50 455.57,526.00 460.47,524.00 465.37,568.70 470.26,456.40 475.16,425.60 480.06,327.00 484.95,229.00 489.85,126.00 494.75,267.20 499.65,259.20 504.54,336.00 509.44,413.50 514.34,404.50 519.23,465.00 524.13,411.00 529.03,454.90 533.93,452.10 538.82,417.40 543.72,437.10 548.62,467.10 553.51,469.30 558.41,433.90 563.31,473.00 568.21,483.80 573.10,527.00 578.00,572.00 582.90,570.80 587.80,615.90 592.69,556.80 597.59,595.70 602.49,563.80 607.38,617.00 612.28,670.60 617.18,630.00 622.08,590.00 626.97,549.50 631.87,474.20 636.77,323.90 641.66,367.40 646.56,298.40 651.46,317.50 656.36,321.50 661.25,381.50 666.15,380.40 671.05,443.20 675.94,441.90 680.84,489.80 685.74,508.50 690.64,540.30 695.53,533.30 700.43,500.00 705.33,466.50 710.23,452.90 715.12,411.00 720.02,399.10 724.92,402.40 729.81,430.10 734.71,417.70 739.61,431.90 744.51,435.50 749.40,448.30 754.30,464.70 759.20,457.20 764.09,465.30 768.99,509.10 773.89,533.80 778.79,526.50 783.68,563.10 788.58,584.00 793.48,611.70 798.37,614.00 803.27,658.20 808.17,645.50 813.07,632.70 817.96,639.50 822.86,644.00 827.76,659.70 832.66,656.70 837.55,656.70 842.45,651.20 847.35,649.70 852.24,656.70 857.14,669.20 862.04,674.70 866.94,682.70 871.83,683.30 876.73,650.00 881.63,634.20 886.52,622.70 891.42,650.00 896.32,649.20 901.22,656.60 906.11,659.30 911.01,645.40 915.91,633.00 920.80,638.40 925.70,644.10 930.60,642.10 935.50,641.10 940.39,644.30 945.29,642.70 950.19,647.00 955.09,651.80 959.98,654.10 964.88,665.70 969.78,673.20 974.67,679.60 979.57,655.50 984.47,660.90 989.37,660.40 994.26,663.00 999.16,665.20 1004.06,673.50 1008.95,679.20 1013.85,680.60 1018.75,702.90 1023.65,707.10 1028.54,702.90 1033.44,712.00 1038.34,719.50 1043.23,718.70 1048.13,721.30 1053.03,725.60 1057.93,725.90 1062.82,721.10 1067.72,708.20 1072.62,708.40 1077.52,705.00 1082.41,703.90 1087.31,706.80 1092.21,716.80 1097.10,714.90 1102.00,709.00 1106.90,705.50 1111.80,712.30 1116.69,711.60 1121.59,713.10 1126.49,713.40 1131.38,725.00 1136.28,722.00 1141.18,720.90 1146.08,723.70 1150.97,717.30 1155.87,715.60 1160.77,712.40 1165.66,701.40 1170.56,683.20 1175.46,675.90 1180.36,686.20 1185.25,689.60 1190.15,698.20 1195.05,708.40 1199.95,707.90 1204.84,708.40 1209.74,698.80 1214.64,687.50 1219.53,685.90 1224.43,695.00 1229.33,706.10 1234.23,706.50 1239.12,699.10 1244.02,691.30 1248.92,688.60 1253.81,689.90 1258.71,691.30 1263.61,690.40 1268.51,688.00 1273.40,683.80 1278.30,684.30 1283.20,658.00 1288.09,646.80 1292.99,648.10 1297.89,633.40 1302.79,647.30 1307.68,632.30 1312.58,643.00 1317.48,638.20 1322.38,645.20 1327.27,648.90 1332.17,649.80 1337.07,650.30 1341.96,650.90 1346.86,659.00 1351.76,670.40 1356.66,667.80 1361.55,673.70 1366.45,662.50 1371.35,656.60 1376.24,659.60 1381.14,660.80 1386.04,678.20 1390.94,683.75 1395.83,665.50 1400.73,650.10 1405.63,643.10 1410.52,600.60 1415.42,617.40 1420.32,608.30 1425.22,628.90 1430.11,645.40 1435.01,657.80 1439.91,645.40 1444.81,657.80 1449.70,659.30 1454.60,663.70 1459.50,636.90 1464.39,636.00" fill="none" stroke="#2196f3" stroke-width="2" stroke-linejoin="round" stroke-linecap="butt"/>
<line x1="7" y1="636.5" x2="1465" y2="636.5" stroke="#2196f3" stroke-width="1" stroke-dasharray="1 2"/>
<rect x="1465" y="44" width="1" height="852" fill="#d6d8dc"/>
<rect x="7" y="868" width="1546" height="1" fill="#d6d8dc"/>
<rect x="6.5" y="43.5" width="1547" height="853" fill="none" stroke="#000" stroke-width="1"/>
<text x="1474.69" y="83.00" font-size="13" fill="#131722" textLength="61.71" lengthAdjust="spacingAndGlyphs">0.15000000</text>
<text x="1474.69" y="132.00" font-size="13" fill="#131722" textLength="61.71" lengthAdjust="spacingAndGlyphs">0.14000000</text>
<text x="1474.69" y="181.00" font-size="13" fill="#131722" textLength="61.71" lengthAdjust="spacingAndGlyphs">0.13000000</text>
<text x="1474.69" y="230.00" font-size="13" fill="#131722" textLength="61.71" lengthAdjust="spacingAndGlyphs">0.12000000</text>
<text x="1474.68" y="278.00" font-size="13" fill="#131722" textLength="61.72" lengthAdjust="spacingAndGlyphs">0.11000000</text>
<text x="1474.69" y="327.00" font-size="13" fill="#131722" textLength="61.71" lengthAdjust="spacingAndGlyphs">0.10000000</text>
<text x="1474.69" y="376.00" font-size="13" fill="#131722" textLength="61.71" lengthAdjust="spacingAndGlyphs">0.09000000</text>
<text x="1474.69" y="425.00" font-size="13" fill="#131722" textLength="61.71" lengthAdjust="spacingAndGlyphs">0.08000000</text>
<text x="1474.69" y="474.00" font-size="13" fill="#131722" textLength="61.71" lengthAdjust="spacingAndGlyphs">0.07000000</text>
<text x="1474.69" y="523.00" font-size="13" fill="#131722" textLength="61.71" lengthAdjust="spacingAndGlyphs">0.06000000</text>
<text x="1474.69" y="572.00" font-size="13" fill="#131722" textLength="61.71" lengthAdjust="spacingAndGlyphs">0.05000000</text>
<text x="1474.69" y="621.00" font-size="13" fill="#131722" textLength="61.71" lengthAdjust="spacingAndGlyphs">0.04000000</text>
<text x="1474.69" y="669.00" font-size="13" fill="#131722" textLength="61.71" lengthAdjust="spacingAndGlyphs">0.03000000</text>
<text x="1474.69" y="718.00" font-size="13" fill="#131722" textLength="61.71" lengthAdjust="spacingAndGlyphs">0.02000000</text>
<text x="1474.69" y="767.00" font-size="13" fill="#131722" textLength="61.71" lengthAdjust="spacingAndGlyphs">0.01000000</text>
<text x="1474.96" y="815.00" font-size="13" fill="#131722" textLength="67.22" lengthAdjust="spacingAndGlyphs">−0.00000000</text>
<text x="1474.96" y="864.00" font-size="13" fill="#131722" textLength="67.22" lengthAdjust="spacingAndGlyphs">−0.01000000</text>
<text x="29.70" y="885.90" font-size="13" fill="#2f323b" textLength="19.69" lengthAdjust="spacingAndGlyphs">Sep</text>
<text x="108.51" y="885.90" font-size="13" fill="#131722" textLength="27.90" lengthAdjust="spacingAndGlyphs">2016</text>
<text x="194.09" y="885.90" font-size="13" fill="#2f323b" textLength="21.91" lengthAdjust="spacingAndGlyphs">May</text>
<text x="283.70" y="885.90" font-size="13" fill="#2f323b" textLength="19.69" lengthAdjust="spacingAndGlyphs">Sep</text>
<text x="363.51" y="885.90" font-size="13" fill="#131722" textLength="27.90" lengthAdjust="spacingAndGlyphs">2017</text>
<text x="449.09" y="885.90" font-size="13" fill="#2f323b" textLength="21.91" lengthAdjust="spacingAndGlyphs">May</text>
<text x="538.70" y="885.90" font-size="13" fill="#2f323b" textLength="19.69" lengthAdjust="spacingAndGlyphs">Sep</text>
<text x="617.51" y="885.90" font-size="13" fill="#131722" textLength="27.90" lengthAdjust="spacingAndGlyphs">2018</text>
<text x="709.09" y="885.90" font-size="13" fill="#2f323b" textLength="21.91" lengthAdjust="spacingAndGlyphs">May</text>
<text x="793.70" y="885.90" font-size="13" fill="#2f323b" textLength="19.69" lengthAdjust="spacingAndGlyphs">Sep</text>
<text x="877.51" y="885.90" font-size="13" fill="#131722" textLength="27.90" lengthAdjust="spacingAndGlyphs">2019</text>
<text x="963.09" y="885.90" font-size="13" fill="#2f323b" textLength="21.91" lengthAdjust="spacingAndGlyphs">May</text>
<text x="1047.70" y="885.90" font-size="13" fill="#2f323b" textLength="19.69" lengthAdjust="spacingAndGlyphs">Sep</text>
<text x="1132.52" y="885.90" font-size="13" fill="#131722" textLength="27.69" lengthAdjust="spacingAndGlyphs">2020</text>
<text x="1218.09" y="885.90" font-size="13" fill="#2f323b" textLength="21.91" lengthAdjust="spacingAndGlyphs">May</text>
<text x="1307.70" y="885.90" font-size="13" fill="#2f323b" textLength="19.69" lengthAdjust="spacingAndGlyphs">Sep</text>
<text x="1386.51" y="885.90" font-size="13" fill="#131722" textLength="27.90" lengthAdjust="spacingAndGlyphs">2021</text>
<path d="M1465,628 H1541 Q1543,628 1543,630 V643 Q1543,645 1541,645 H1465 Z" fill="#2196f3"/>
<text x="1474.43" y="641.00" font-size="13" font-weight="bold" fill="#ffffff" textLength="61.94" lengthAdjust="spacingAndGlyphs">0.03582767</text>
<rect x="1465" y="636" width="5" height="1" fill="#ffffff"/>
<rect x="1495.5" y="50.5" width="27" height="18" rx="3" ry="3" fill="#fff" stroke="#d1d4dc" stroke-width="1"/>
<text x="1498.48" y="64.00" font-size="12" fill="#131722" textLength="20.88" lengthAdjust="spacingAndGlyphs">BTC</text>
<text x="5.91" y="16.80" font-size="13.5" font-weight="bold" fill="#131722" textLength="56.21" lengthAdjust="spacingAndGlyphs">mappopk</text>
<text x="66.12" y="16.80" font-size="13.5" fill="#131722" textLength="336.22" lengthAdjust="spacingAndGlyphs">published on TradingView.com, April 09, 2021 01:27:19 UTC</text>
<text x="5.97" y="33.60" font-size="13.5" font-weight="bold" fill="#131722" textLength="124.72" lengthAdjust="spacingAndGlyphs">BITTREX:ETHBTC, 1W</text>
<text x="136.91" y="33.60" font-size="13.5" fill="#131722" textLength="66.20" lengthAdjust="spacingAndGlyphs">0.03582767</text>
<text x="220.92" y="33.60" font-size="13.5" fill="#131722" textLength="127.13" lengthAdjust="spacingAndGlyphs">+0.00000963 (+0.03%)</text>
<text x="351.72" y="33.60" font-size="13.5" font-weight="bold" fill="#131722" textLength="13.49" lengthAdjust="spacingAndGlyphs">O:</text>
<text x="366.20" y="33.60" font-size="13.5" fill="#26a69a" textLength="66.81" lengthAdjust="spacingAndGlyphs">0.03567071</text>
<text x="437.02" y="33.60" font-size="13.5" font-weight="bold" fill="#131722" textLength="13.11" lengthAdjust="spacingAndGlyphs">H:</text>
<text x="450.70" y="33.60" font-size="13.5" fill="#26a69a" textLength="67.32" lengthAdjust="spacingAndGlyphs">0.03659000</text>
<text x="522.29" y="33.60" font-size="13.5" font-weight="bold" fill="#131722" textLength="9.22" lengthAdjust="spacingAndGlyphs">L:</text>
<text x="532.91" y="33.60" font-size="13.5" fill="#26a69a" textLength="66.71" lengthAdjust="spacingAndGlyphs">0.03471001</text>
<text x="603.97" y="33.60" font-size="13.5" font-weight="bold" fill="#131722" textLength="10.99" lengthAdjust="spacingAndGlyphs">C:</text>
<text x="616.31" y="33.60" font-size="13.5" fill="#26a69a" textLength="66.30" lengthAdjust="spacingAndGlyphs">0.03582767</text>
<text x="14.73" y="64.70" font-size="13" font-weight="bold" fill="#131722" textLength="193.41" lengthAdjust="spacingAndGlyphs">Ethereum / Bitcoin, 1W, BITTREX</text>
<text x="15.50" y="81.90" font-size="13" fill="#131722" textLength="18.37" lengthAdjust="spacingAndGlyphs">Vol</text>
<text x="14.52" y="98.90" font-size="13" fill="#131722" textLength="94.73" lengthAdjust="spacingAndGlyphs">MA (60, close, 0)</text>
<text x="33.80" y="918.80" font-size="13.5" fill="#131722" textLength="71.04" lengthAdjust="spacingAndGlyphs">TradingView</text>
<polygon points="207,33.8 217.2,33.8 212.1,24.2" fill="#26a69a"/>
<g transform="translate(4,904)"><g fill="#2196f3"><circle cx="6.6" cy="12.9" r="4.9"/><circle cx="13.1" cy="8.7" r="5.9"/><circle cx="21.8" cy="9.9" r="3.0"/><circle cx="23.5" cy="13.4" r="4.4"/><rect x="6.6" y="11" width="17" height="6.8"/></g><polyline points="1.5,17.3 11.8,9 18,14.4 25,7" fill="none" stroke="#fff" stroke-width="1.1"/><circle cx="11.8" cy="9" r="1.9" fill="#fff"/><circle cx="18" cy="14.4" r="1.9" fill="#fff"/></g>
</svg></body></html>
